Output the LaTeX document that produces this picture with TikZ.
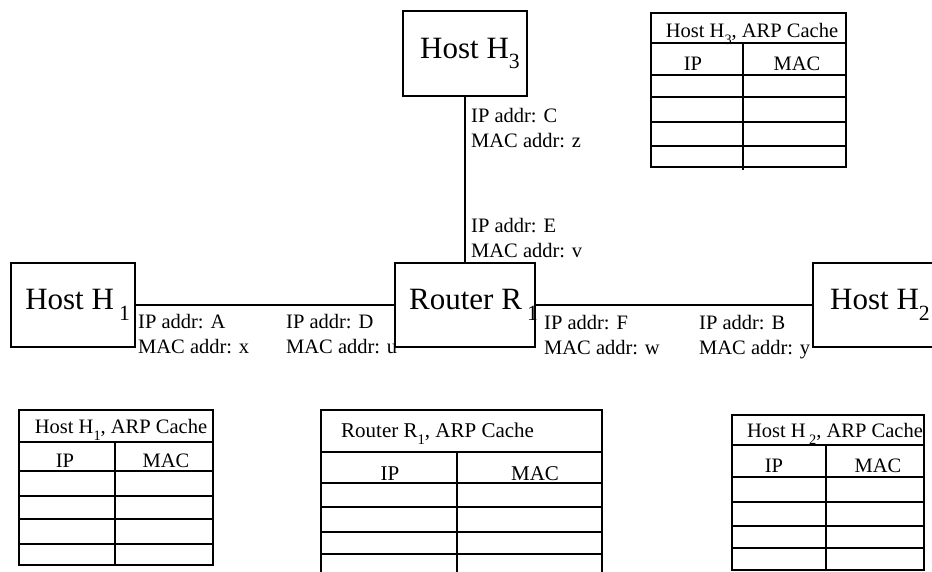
\documentclass[tikz,border=0pt]{standalone}
\usepackage{fontspec}
\setmainfont{Liberation Serif}
\usepackage{graphicx}

\newcommand{\idx}[1]{\raisebox{-0.35em}{\scalebox{0.7}{#1}}}

\tikzset{
  netbox/.style={rectangle,draw,line width=1.5pt,minimum height=84pt,inner sep=0pt,font=\fontsize{31}{35}\selectfont},
  link/.style={line width=1.5pt},
  addr/.style={anchor=north west,align=left,inner sep=0pt,font=\fontsize{20.5}{25}\selectfont},
  cache/.style={line width=1.5pt},
  cachetxt/.style={anchor=base,inner sep=0pt,font=\fontsize{20.5}{23}\selectfont},
}

\begin{document}
\begin{tikzpicture}[x=1pt,y=-1pt]
    \useasboundingbox (0,0) rectangle (932,571);
    \clip (0,0) rectangle (932,571);

    % hosts and router
    \node[netbox,minimum width=124pt] (h1) at (73,305) {\makebox[114pt][r]{Host H\,\idx{1}}};
    \node[netbox,minimum width=140pt] (r1) at (465,305) {\makebox[140pt][r]{Router R\,\idx{1}\hspace*{-3pt}}};
    \node[netbox,minimum width=134pt] (h2) at (880,305) {Host H\idx{2}};
    \node[netbox,minimum width=124pt,minimum height=85pt] (h3) at (465,53.5) {\hspace*{10pt}Host H\idx{3}};

    \draw[link] (h1) -- (r1);
    \draw[link] (r1) -- (h2);
    \draw[link] (h3) -- (r1);

    % interface addresses
    \node[addr] (ifa) at (138,314) {IP addr: A\\MAC addr: x};
    \node[addr] (ifd) at (286,314) {IP addr: D\\MAC addr: u};
    \node[addr] (iff) at (544,315) {IP addr: F\\MAC addr: w};
    \node[addr] (ifb) at (699,315) {IP addr: B\\MAC addr: y};
    \node[addr] (ifc) at (471,108) {IP addr: C\\MAC addr: z};
    \node[addr] (ife) at (471,218) {IP addr: E\\MAC addr: v};

    % ARP cache of H1
    \draw[cache] (19,410) rectangle (213,565);
    \draw[cache] (115,442) -- (115,565);
    \foreach \y in {442,471,496,519,544}
        \draw[cache] (19,\y) -- (213,\y);
    \node[cachetxt] (c1title) at (121,433) {Host H\idx{1}, ARP Cache};
    \node[cachetxt] (c1ip) at (65,467) {IP};
    \node[cachetxt] (c1mac) at (166,467) {MAC};

    % ARP cache of R1
    \draw[cache] (321,575) -- (321,410) -- (602,410) -- (602,575);
    \draw[cache] (457,452) -- (457,575);
    \foreach \y in {452,483,507,532,554}
        \draw[cache] (321,\y) -- (602,\y);
    \node[cachetxt,anchor=base west,font=\fontsize{21}{24}\selectfont] (crtitle) at (341,437) {Router R\idx{1}, ARP Cache};
    \node[cachetxt,font=\fontsize{21}{24}\selectfont] (crip) at (390,480) {IP};
    \node[cachetxt,font=\fontsize{21}{24}\selectfont] (crmac) at (535,480) {MAC};

    % ARP cache of H2
    \draw[cache] (732,415) rectangle (924,570);
    \draw[cache] (826,445) -- (826,570);
    \foreach \y in {445,477,502,526,548}
        \draw[cache] (732,\y) -- (924,\y);
    \node[cachetxt] (c2title) at (835,437) {Host H\,\idx{2}, ARP Cache};
    \node[cachetxt] (c2ip) at (774,472) {IP};
    \node[cachetxt] (c2mac) at (878,472) {MAC};

    % ARP cache of H3
    \draw[cache] (651,13) rectangle (846,167);
    \draw[cache] (743,43) -- (743,170);
    \foreach \y in {43,75,97,122,146}
        \draw[cache] (651,\y) -- (846,\y);
    \node[cachetxt] (c3title) at (752,37) {Host H\idx{3}, ARP Cache};
    \node[cachetxt] (c3ip) at (693,70) {IP};
    \node[cachetxt] (c3mac) at (797,70) {MAC};
\end{tikzpicture}
\end{document}
